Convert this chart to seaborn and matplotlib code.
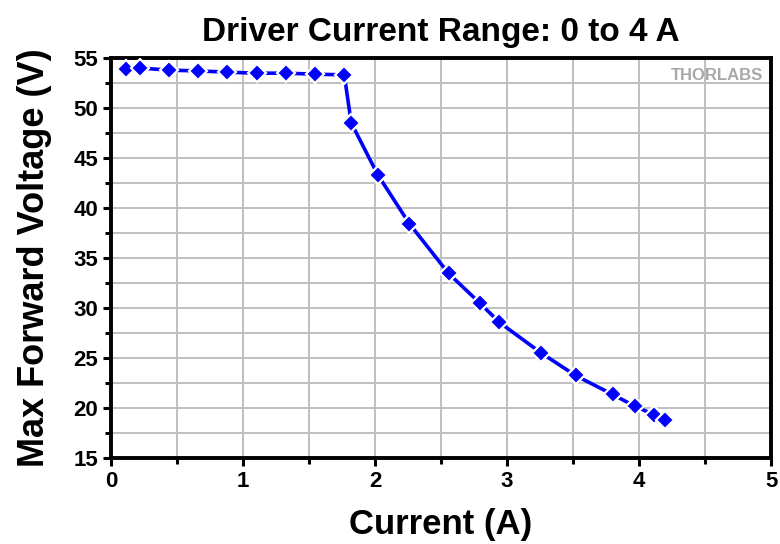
import matplotlib
matplotlib.use('Agg')
from matplotlib import pyplot as plt
from matplotlib.ticker import MultipleLocator
import seaborn as sns
import pandas as pd

# data
current = [0.11, 0.216, 0.436, 0.66, 0.88, 1.105, 1.325, 1.547, 1.767,
           1.82, 2.02, 2.26, 2.557, 2.794, 2.943, 3.256, 3.519, 3.80,
           3.968, 4.115, 4.196]
voltage = [53.85, 53.98, 53.75, 53.68, 53.55, 53.45, 53.45, 53.35, 53.28,
           48.48, 43.32, 38.42, 33.45, 30.48, 28.55, 25.52, 23.25, 21.35,
           20.18, 19.32, 18.82]

df = pd.DataFrame({'Current (A)': current, 'Max Forward Voltage (V)': voltage})

sns.set_style('white')
plt.rcParams['font.family'] = ['Liberation Sans', 'DejaVu Sans']
plt.rcParams['text.color'] = 'black'
plt.rcParams['axes.labelcolor'] = 'black'
plt.rcParams['xtick.color'] = 'black'
plt.rcParams['ytick.color'] = 'black'

fig = plt.figure(figsize=(7.8, 5.44), dpi=100)
ax = fig.add_axes([0.1423, 0.158, 0.8462, 0.736])

sns.lineplot(data=df, x='Current (A)', y='Max Forward Voltage (V)', ax=ax,
             color='#0000FF', linewidth=2.6, marker='D', markersize=9,
             markeredgecolor='white', markeredgewidth=1.6, sort=False, zorder=3)

ax.set_xlim(0, 5)
ax.set_ylim(15, 55)
ax.xaxis.set_major_locator(MultipleLocator(1))
ax.xaxis.set_minor_locator(MultipleLocator(0.5))
ax.yaxis.set_major_locator(MultipleLocator(5))
ax.yaxis.set_minor_locator(MultipleLocator(2.5))
ax.grid(True, which='both', color='#C0C0C0', linewidth=1.4, zorder=0)
ax.set_axisbelow(True)

for s in ax.spines.values():
    s.set_linewidth(2.8)
    s.set_color('black')

ax.tick_params(axis='both', which='major', direction='out', length=6, width=2.2,
               labelsize=16, pad=3, bottom=True, left=True)
ax.tick_params(axis='both', which='minor', direction='out', length=4, width=2.2,
               bottom=True, left=True)
for lab in ax.get_xticklabels() + ax.get_yticklabels():
    lab.set_fontweight('bold')

ax.set_xlabel('Current (A)', fontsize=25, fontweight='bold', labelpad=12)
ax.set_ylabel('Max Forward Voltage (V)', fontsize=26, fontweight='bold', labelpad=16)
ax.set_title('Driver Current Range: 0 to 4 A', fontsize=24, fontweight='bold', pad=12)

ax.text(0.988, 0.955, 'THORLABS', transform=ax.transAxes, ha='right', va='center',
        fontsize=12, fontweight='bold', color='#A8A8A8')

fig.savefig('out.png', dpi=100)
